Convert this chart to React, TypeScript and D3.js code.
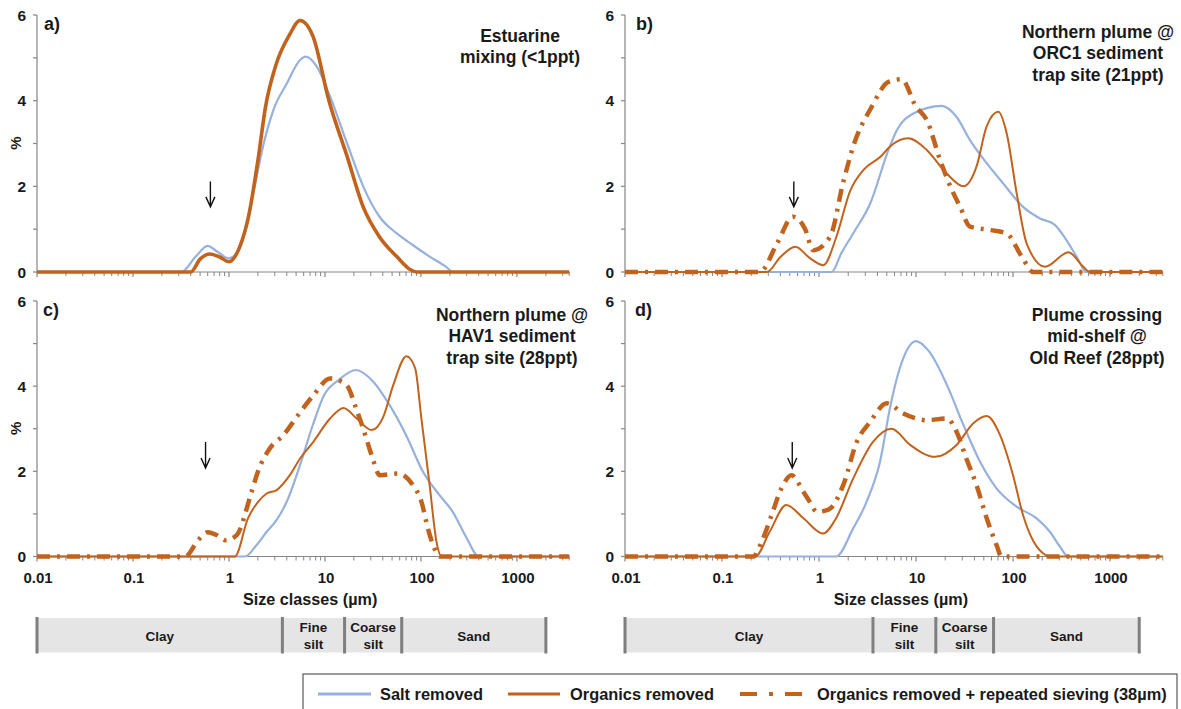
import React from 'react';
import * as d3 from 'd3';

type Pt = [number, number];

// ---------- data ----------
const sizeDomain: [number, number] = [0.01, 3500];
const yTickValues = [0, 1, 2, 3, 4, 5, 6];
const yLabelValues = [0, 2, 4, 6];
const xMajorTicks = [0.01, 0.1, 1, 10, 100, 1000];
const xTickLabels = ['0.01', '0.1', '1', '10', '100', '1000'];

const classBounds = [0.01, 3.6, 16, 63, 2000];
const classNames = [['Clay'], ['Fine', 'silt'], ['Coarse', 'silt'], ['Sand']];

const seriesNames = ['Salt removed', 'Organics removed', 'Organics removed + repeated sieving (38µm)'];

const aSalt: Pt[] = [[0.01, 0], [0.32, 0], [0.45, 0.36], [0.6, 0.61], [0.75, 0.48], [1.0, 0.32], [1.3, 0.57], [1.7, 1.6], [2.3, 3.0], [2.9, 3.78], [4.0, 4.4], [5.5, 4.95], [6.3, 5.03], [8.2, 4.8], [11.3, 4.1], [17, 3.0], [25, 2.0], [37, 1.29], [56, 0.9], [82, 0.63], [123, 0.36], [183, 0.12], [215, 0], [3500, 0]];
const aOrg: Pt[] = [[0.01, 0], [0.4, 0], [0.5, 0.3], [0.63, 0.42], [0.8, 0.35], [1.0, 0.24], [1.3, 0.6], [1.6, 1.3], [2.0, 2.6], [2.4, 3.85], [3.1, 4.85], [4.3, 5.55], [5.5, 5.87], [7.5, 5.5], [11, 4.0], [17, 2.7], [25, 1.52], [37, 0.82], [56, 0.36], [77, 0.06], [90, 0], [3500, 0]];

const bSalt: Pt[] = [[0.01, 0], [1.35, 0], [1.7, 0.44], [2.25, 0.9], [3.37, 1.6], [5.2, 2.85], [6.3, 3.3], [9.4, 3.7], [18.4, 3.88], [26, 3.63], [36, 3.08], [53.5, 2.54], [79, 2.07], [127, 1.52], [190, 1.25], [270, 1.1], [354, 0.75], [452, 0.36], [575, 0], [3500, 0]];
const bOrg: Pt[] = [[0.01, 0], [0.29, 0], [0.4, 0.35], [0.57, 0.59], [0.8, 0.33], [1.11, 0.16], [1.5, 0.8], [2.1, 1.9], [2.86, 2.38], [4.3, 2.69], [5.4, 2.93], [8.3, 3.12], [12.9, 2.85], [20.7, 2.3], [30.8, 2.0], [42, 2.46], [53.5, 3.4], [70.5, 3.74], [86, 3.24], [109, 1.84], [138, 0.67], [214, 0.12], [373, 0.46], [531, 0.12], [620, 0], [3500, 0]];
const bSieve: Pt[] = [[0.01, 0], [0.246, 0], [0.37, 0.67], [0.54, 1.29], [0.72, 1.0], [0.87, 0.51], [1.3, 0.82], [1.78, 2.1], [2.25, 2.93], [3.5, 3.86], [5.2, 4.44], [7.1, 4.5], [10, 3.86], [12.9, 3.55], [17.8, 2.6], [23.4, 1.92], [28.5, 1.52], [36, 1.06], [58, 0.98], [86, 0.9], [123, 0.36], [162, 0], [3500, 0]];

const cSalt: Pt[] = [[0.01, 0], [1.47, 0], [1.94, 0.27], [2.47, 0.58], [3.14, 0.86], [4.0, 1.29], [5.5, 2.15], [7.5, 3.1], [9.8, 3.79], [14, 4.15], [21, 4.38], [32, 4.1], [47, 3.56], [70, 2.85], [105, 1.99], [156, 1.44], [214, 1.05], [300, 0.43], [400, 0], [3500, 0]];
const cOrg: Pt[] = [[0.01, 0], [1.15, 0], [1.58, 0.9], [2.02, 1.29], [2.47, 1.48], [3.14, 1.56], [4.3, 1.91], [5.5, 2.3], [7.6, 2.7], [11.3, 3.24], [15.6, 3.49], [21.4, 3.24], [30.6, 2.97], [40.5, 3.28], [51.5, 4.03], [70.6, 4.7], [87, 4.42], [101, 3.24], [123, 1.68], [145, 0.35], [164, 0], [3500, 0]];
const cSieve: Pt[] = [[0.01, 0], [0.35, 0], [0.48, 0.39], [0.6, 0.57], [0.75, 0.5], [0.92, 0.38], [1.2, 0.5], [1.72, 1.52], [2.0, 1.99], [2.67, 2.54], [3.68, 2.85], [5.4, 3.36], [7.6, 3.79], [11.3, 4.18], [16.7, 4.03], [21.4, 3.44], [26.3, 2.85], [30.6, 2.38], [37.3, 1.91], [57.7, 1.95], [82, 1.68], [101, 1.29], [118, 0.66], [138, 0.19], [156, 0], [3500, 0]];

const dSalt: Pt[] = [[0.01, 0], [1.5, 0], [2.25, 0.66], [3.1, 1.29], [4.26, 2.23], [5.4, 3.5], [6.8, 4.42], [10, 5.06], [13.7, 4.81], [20.8, 4.03], [30.8, 3.09], [45.6, 2.23], [67.6, 1.6], [109, 1.17], [174, 0.9], [240, 0.58], [305, 0.23], [370, 0], [3500, 0]];
const dOrg: Pt[] = [[0.01, 0], [0.22, 0], [0.31, 0.58], [0.46, 1.21], [0.69, 0.9], [1.1, 0.54], [1.5, 0.9], [2.26, 1.84], [3.6, 2.69], [5.6, 3.0], [8.7, 2.62], [15.7, 2.34], [26.2, 2.62], [39, 3.13], [53.5, 3.3], [73.5, 2.85], [100, 1.91], [127, 0.97], [163, 0.35], [205, 0.07], [240, 0], [3500, 0]];
const dSieve: Pt[] = [[0.01, 0], [0.21, 0], [0.257, 0.35], [0.32, 0.93], [0.41, 1.6], [0.52, 1.91], [0.69, 1.52], [0.8, 1.29], [0.95, 1.05], [1.25, 1.1], [1.78, 1.68], [2.45, 2.69], [3.36, 3.16], [5.0, 3.6], [7.4, 3.36], [12.9, 3.2], [20.8, 3.24], [26.2, 2.93], [33, 2.3], [42, 1.68], [53.5, 0.9], [67.6, 0.27], [76, 0], [3500, 0]];

const panelLetters = ['a)', 'b)', 'c)', 'd)'];
const panelTitles = [
  ['Estuarine', 'mixing (<1ppt)'],
  ['Northern plume @', 'ORC1 sediment', 'trap site (21ppt)'],
  ['Northern plume @', 'HAV1 sediment', 'trap site (28ppt)'],
  ['Plume crossing', 'mid-shelf @', 'Old Reef (28ppt)'],
];
const panelSeries: (Pt[] | null)[][] = [
  [aSalt, aOrg, null],
  [bSalt, bOrg, bSieve],
  [cSalt, cOrg, cSieve],
  [dSalt, dOrg, dSieve],
];
const arrowSize = [0.64, 0.55, 0.57, 0.53];
const arrowTop = [2.11, 2.11, 2.69, 2.69];
const arrowBottom = [1.52, 1.52, 2.08, 2.08];

// ---------- styling / layout ----------
const W = 1181;
const H = 709;
const FONT = '"Liberation Sans", Arial, Helvetica, sans-serif';
const TXT = '#1a1a1a';
const AXIS = '#868686';
const BLUE = '#95b1dc';
const ORANGE = '#c1621d';

const cols = [{ x0: 37, x1: 569.2 }, { x0: 625, x1: 1162.8 }];
const rows = [{ y0: 272, y6: 15 }, { y0: 556.5, y6: 301 }];
const panelPos = [
  { c: 0, r: 0 }, { c: 1, r: 0 }, { c: 0, r: 1 }, { c: 1, r: 1 },
];
const titlePos = [
  { x: 520, y: 41.5 }, { x: 1098, y: 37.5 }, { x: 512, y: 320.5 }, { x: 1097, y: 320.5 },
];
const letterPos = [
  { x: 44, y: 29.5 }, { x: 636, y: 29.5 }, { x: 43, y: 315.5 }, { x: 635, y: 315.5 },
];

function minorTicks(): number[] {
  const out: number[] = [];
  for (let e = -2; e <= 3; e++) {
    for (let m = 2; m <= 9; m++) {
      const v = m * Math.pow(10, e);
      if (v <= sizeDomain[1]) out.push(v);
    }
  }
  out.push(sizeDomain[1]);
  return out;
}

function Panel({ i }: { i: number }) {
  const { c, r } = panelPos[i];
  const col = cols[c];
  const row = rows[r];
  const x = d3.scaleLog().domain(sizeDomain).range([col.x0, col.x1]);
  const y = d3.scaleLinear().domain([0, 6]).range([row.y0, row.y6]);
  const line = d3.line<Pt>().x(d => x(d[0])).y(d => y(d[1])).curve(d3.curveMonotoneX);
  const series = panelSeries[i];
  const isA = i === 0;
  const showXLabels = r === 1;
  const ax = x(arrowSize[i]);
  const ayT = y(arrowTop[i]);
  const ayB = y(arrowBottom[i]);
  return (
    <g>
      {/* axes */}
      <line x1={col.x0} x2={col.x1} y1={row.y0} y2={row.y0} stroke={AXIS} strokeWidth={1.2} />
      <line x1={col.x0} x2={col.x0} y1={row.y0} y2={row.y6} stroke={AXIS} strokeWidth={1.2} />
      {yTickValues.map(v => (
        <line key={'yt' + v} x1={col.x0 - 4} x2={col.x0} y1={y(v)} y2={y(v)} stroke={AXIS} strokeWidth={1.2} />
      ))}
      {yLabelValues.map(v => (
        <text key={'yl' + v} x={col.x0 - 11} y={y(v)} dy="0.36em" textAnchor="end" fontFamily={FONT} fontWeight="bold" fontSize={15.5} fill={TXT}>{v}</text>
      ))}
      {xMajorTicks.map(v => (
        <line key={'xM' + v} x1={x(v)} x2={x(v)} y1={row.y0} y2={row.y0 + 5} stroke={AXIS} strokeWidth={1.2} />
      ))}
      {minorTicks().map(v => (
        <line key={'xm' + v} x1={x(v)} x2={x(v)} y1={row.y0} y2={row.y0 + 4} stroke={AXIS} strokeWidth={1} />
      ))}
      {showXLabels && xMajorTicks.map((v, k) => (
        <text key={'xl' + v} x={x(v) + 1} y={row.y0 + 26} textAnchor="middle" fontFamily={FONT} fontWeight="bold" fontSize={15} fill={TXT}>{xTickLabels[k]}</text>
      ))}
      {c === 0 && (
        <text transform={`translate(16,${(row.y0 + row.y6) / 2 - 0.5}) rotate(-90)`} textAnchor="middle" dy="0.36em" fontFamily={FONT} fontWeight="bold" fontSize={15} fill={TXT}>%</text>
      )}
      {showXLabels && (
        <text x={(col.x0 + col.x1) / 2 + 7} y={row.y0 + 48.5} textAnchor="middle" fontFamily={FONT} fontWeight="bold" fontSize={16.2} fill={TXT}>Size classes (µm)</text>
      )}
      {/* series */}
      {series[0] && <path d={line(series[0]) || ''} fill="none" stroke={BLUE} strokeWidth={2.2} />}
      {series[1] && <path d={line(series[1]) || ''} fill="none" stroke={ORANGE} strokeWidth={isA ? 3.6 : 2} />}
      {series[2] && <path d={line(series[2]) || ''} fill="none" stroke={ORANGE} strokeWidth={4.5} strokeDasharray="13,7,3,7" />}
      {/* arrow */}
      <path d={`M${ax},${ayT} L${ax},${ayB} M${ax - 4.5},${ayB - 10} L${ax},${ayB} L${ax + 4.5},${ayB - 10}`} fill="none" stroke="#111" strokeWidth={1.4} />
      {/* labels */}
      <text x={letterPos[i].x} y={letterPos[i].y} fontFamily={FONT} fontWeight="bold" fontSize={18} fill={TXT}>{panelLetters[i]}</text>
      {panelTitles[i].map((t, k) => (
        <text key={'t' + k} x={titlePos[i].x} y={titlePos[i].y + k * 21.5} textAnchor="middle" fontFamily={FONT} fontWeight="bold" fontSize={17.5} fill={TXT}>{t}</text>
      ))}
    </g>
  );
}

function ClassBar({ c }: { c: number }) {
  const col = cols[c];
  const x = d3.scaleLog().domain(sizeDomain).range([col.x0, col.x1]);
  const yTop = 618;
  const yBot = 652.5;
  return (
    <g>
      <rect x={x(classBounds[0])} y={yTop} width={x(classBounds[classBounds.length - 1]) - x(classBounds[0])} height={yBot - yTop} fill="#e5e5e5" />
      {classBounds.map((b, k) => (
        <rect key={'s' + k} x={x(b) - 1.5} y={yTop - 1} width={3} height={yBot - yTop + 2} fill="#7f7f7f" />
      ))}
      {classNames.map((lines, k) => {
        const cx = (x(classBounds[k]) + x(classBounds[k + 1])) / 2;
        if (lines.length === 1) {
          return <text key={'n' + k} x={cx} y={640.8} textAnchor="middle" fontFamily={FONT} fontWeight="bold" fontSize={13.5} fill={TXT}>{lines[0]}</text>;
        }
        return (
          <g key={'n' + k}>
            <text x={cx} y={632} textAnchor="middle" fontFamily={FONT} fontWeight="bold" fontSize={13.5} fill={TXT}>{lines[0]}</text>
            <text x={cx} y={648.5} textAnchor="middle" fontFamily={FONT} fontWeight="bold" fontSize={13.5} fill={TXT}>{lines[1]}</text>
          </g>
        );
      })}
    </g>
  );
}

function Legend() {
  const ly = 694;
  return (
    <g>
      <rect x={303} y={674} width={874} height={50} fill="#fff" stroke="#595959" strokeWidth={1.2} />
      <line x1={318} x2={371} y1={ly} y2={ly} stroke={BLUE} strokeWidth={3} />
      <text x={380} y={ly + 5.8} fontFamily={FONT} fontWeight="bold" fontSize={16.4} fill={TXT}>{seriesNames[0]}</text>
      <line x1={508} x2={560} y1={ly} y2={ly} stroke={ORANGE} strokeWidth={3} />
      <text x={570} y={ly + 5.8} fontFamily={FONT} fontWeight="bold" fontSize={16.4} fill={TXT}>{seriesNames[1]}</text>
      <line x1={740} x2={802} y1={ly} y2={ly} stroke={ORANGE} strokeWidth={4} strokeDasharray="17,12,4,12,17" />
      <text x={817} y={ly + 5.8} fontFamily={FONT} fontWeight="bold" fontSize={16.4} fill={TXT}>{seriesNames[2]}</text>
    </g>
  );
}

export default function App() {
  return (
    <svg width={W} height={H} viewBox={`0 0 ${W} ${H}`} style={{ position: 'absolute', left: 0, top: 0, background: '#fff' }}>
      <rect x={0} y={0} width={W} height={H} fill="#fff" />
      {[0, 1, 2, 3].map(i => <Panel key={i} i={i} />)}
      <ClassBar c={0} />
      <ClassBar c={1} />
      <Legend />
    </svg>
  );
}
